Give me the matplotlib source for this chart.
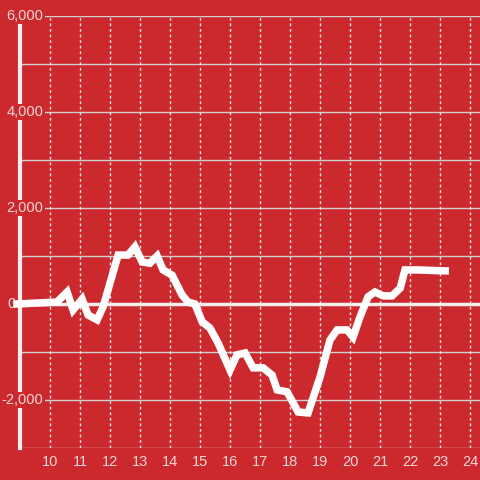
import matplotlib.pyplot as plt

# data
xs = [8.9, 10.23, 10.57, 10.77, 11.07, 11.27, 11.57, 11.77, 12.27, 12.6, 12.83,
      13.07, 13.33, 13.57, 13.77, 14.07, 14.4, 14.6, 14.83, 15.07, 15.33, 15.6,
      16.0, 16.23, 16.5, 16.77, 17.1, 17.4, 17.57, 17.9, 18.27, 18.6, 19.0,
      19.33, 19.57, 19.9, 20.1, 20.33, 20.6, 20.83, 21.1, 21.4, 21.67, 21.83,
      22.23, 23.17]
ys = [0, 40, 250, -125, 100, -230, -330, -60, 1020, 1020, 1190,
      875, 850, 1000, 710, 600, 190, 40, 0, -370, -500, -810,
      -1375, -1060, -1020, -1330, -1330, -1480, -1790, -1830, -2250, -2270, -1520,
      -750, -540, -540, -690, -270, 150, 250, 170, 170, 330, 710,
      710, 690]
x_ticks = list(range(10, 25))
y_major = [-2000, 2000, 4000, 6000]
y_grid = [-3000, -2000, -1000, 1000, 2000, 3000, 4000, 5000, 6000]

bg = '#cc292e'
txt = '#f2d6d6'

plt.rcParams['font.family'] = ['Liberation Sans', 'DejaVu Sans']
fig = plt.figure(figsize=(4.8, 4.8), dpi=100, facecolor=bg)
ax = fig.add_axes([20/480, 32/480, 460/480, 432/480])
ax.set_facecolor(bg)
ax.set_xlim(9.0, 24.33)
ax.set_ylim(-3000, 6000)

# grid
for g in y_grid:
    ax.axhline(g, color='#d2cfcf', lw=1.0, zorder=1)
for t in x_ticks:
    ax.axvline(t, color='#ece6e6', lw=1.0, ls=(0, (2, 2)), zorder=1)
ax.axhline(0, color='#f6f0f0', lw=2.5, zorder=2)

# left spine
ax.axvline(9.0, color='#f4eeee', lw=3, zorder=3, clip_on=False)

ax.plot(xs, ys, color='white', lw=5.4, solid_joinstyle='miter', zorder=6,
        clip_on=False)

for s in ax.spines.values():
    s.set_visible(False)
ax.set_xticks([])
ax.set_yticks([])

for t in x_ticks:
    ax.text(t, -3300, str(t), ha='center', va='center', color=txt,
            fontsize=10.5, clip_on=False)
for v in y_major:
    lab = f'{v:,}'
    ax.text(9.78, v, lab, ha='right', va='center', color=txt, fontsize=10.5,
            zorder=5, clip_on=False,
            bbox=dict(boxstyle='square,pad=0.08', fc=bg, ec='none'))
ax.text(8.84, 0, '0', ha='right', va='center', color=txt, fontsize=10.5,
        zorder=5, clip_on=False)

fig.savefig('out.png', dpi=100, facecolor=bg)
